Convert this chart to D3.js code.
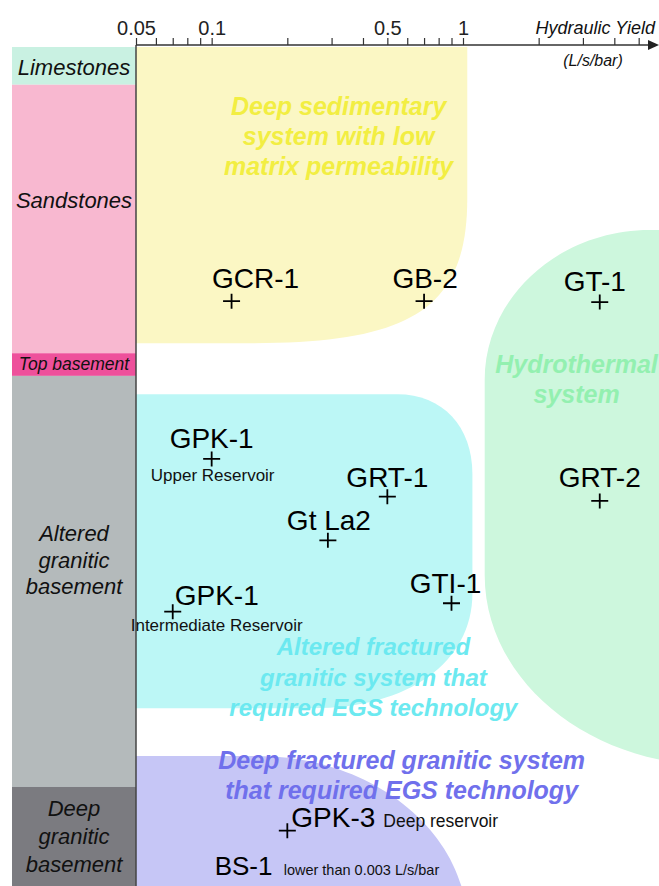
<!DOCTYPE html>
<html>
<head>
<meta charset="utf-8">
<script src="https://cdn.jsdelivr.net/npm/d3@7"></script>
<style>
  html, body { margin: 0; padding: 0; background: #fff; }
  svg { display: block; font-family: "Liberation Sans", Arial, sans-serif; }
</style>
</head>
<body>
<svg id="chart"></svg>
<script>
// hydraulic yield axis (L/s/bar), log scale
const tickValues = [0.05, 0.06, 0.07, 0.08, 0.09, 0.1, 0.2, 0.3, 0.4, 0.5, 0.6, 0.7, 0.8, 0.9, 1, 2, 3, 4, 5]
const tickLabels = [0.05, 0.1, 0.5, 1]

// geological column, depth given in % of the section
const zoneNames = [["Limestones"], ["Sandstones"], ["Top basement"], ["Altered", "granitic", "basement"], ["Deep", "granitic", "basement"]]
const zoneTop = [0, 4.5, 36.5, 39.2, 88.2]
const zoneBottom = [4.5, 36.5, 39.2, 88.2, 100]

// wells
const wellNames = ["GCR-1", "GB-2", "GT-1", "GPK-1", "GRT-1", "Gt La2", "GTI-1", "GPK-1", "GRT-2", "GPK-3"]
const wellYield = [0.12, 0.7, 3.5, 0.1, 0.5, 0.29, 0.9, 0.07, 3.5, 0.2]
const wellDepth = [30.3, 30.3, 30.4, 49.1, 53.6, 58.8, 66.3, 67.3, 54.1, 93.4]
const wellNotes = ["", "", "", "Upper Reservoir", "", "", "", "Intermediate Reservoir", "", "Deep reservoir"]

// well without a point (yield off the scale)
const offScaleName = "BS-1"
const offScaleNote = "lower than 0.003 L/s/bar"
const offScaleDepth = 98.7

// geothermal system domains
const systemText = [
  ["Deep sedimentary", "system with low", "matrix permeability"],
  ["Altered fractured", "granitic system that", "required EGS technology"],
  ["Hydrothermal", "system"],
  ["Deep fractured granitic system", "that required EGS technology"],
]
const systemYield = [[0.05, 1.04], [0.05, 1.09], [1.22, 9], [0.05, 1.04]]
const systemDepth = [[0, 35.3], [41.4, 78.8], [21.8, 85.6], [84.5, 103]]

// ---- layout / styles
const width = 659
const height = 886
const axisY = 45
const colLeft = 12
const plotLeft = 136

const zoneFill = ["#c9f1e2", "#f8b8d0", "#ee509b", "#b4babb", "#7b7b80"]
const zoneLabel = [
  { y: 75, size: 22, lh: 26 },
  { y: 208, size: 22, lh: 26 },
  { y: 370, size: 17.5, lh: 26 },
  { y: 541, size: 22, lh: 26.5 },
  { y: 816, size: 22, lh: 28 },
]

const systemStyle = [
  { fill: "#fbf7c4", color: "#f2ee42", size: 25, tx: 0.32, ty: 115, lh: 30, c: 0.75, br: [215, 145] },
  { fill: "#bcf7f6", color: "#6ce9f0", size: 24, tx: 0.44, ty: 655, lh: 30.5, c: 0.6, tr: [75, 80], br: [160, 115] },
  { fill: "#cdf7dd", color: "#93f0b0", size: 25, tx: 2.83, ty: 373, lh: 30, c: 0.55, tl: [165, 150], bl: [230, 190] },
  { fill: "#c6c6f6", color: "#7070ec", size: 25, tx: 0.57, ty: 769, lh: 30, c: 0.55, tr: [210, 170] },
]

// label offsets relative to the cross: [dx, dy, anchor]
const labelPlace = [[24, -13, "middle"], [1, -13, "middle"], [-5, -11, "middle"], [0, -11, "middle"],
  [0, -10, "middle"], [1, -10, "middle"], [-6, -10, "middle"], [2, -7, "start"], [0, -14, "middle"], [4, -4, "start"]]
const notePlace = [null, null, null, [1, 22, "middle"], null, null, null, [-42, 19, "start"], null, [96, -4, "start"]]

const x = d3.scaleLog().domain([0.05, 1]).range([plotLeft, 463])
const y = d3.scaleLinear().domain([0, 100]).range([47, 886])

const svg = d3.select("#chart").attr("width", width).attr("height", height)

// rounded box, each corner given as [rx, ry]
function roundedBox(x0, y0, x1, y1, s) {
  const c = s.c
  const [tlx, tly] = s.tl || [0, 0]
  const [trx, tr_y] = s.tr || [0, 0]
  const [brx, bry] = s.br || [0, 0]
  const [blx, bly] = s.bl || [0, 0]
  const p = d3.path()
  p.moveTo(x0, y0 + tly)
  if (s.tl) p.bezierCurveTo(x0, y0 + tly * (1 - c), x0 + tlx * (1 - c), y0, x0 + tlx, y0)
  p.lineTo(x1 - trx, y0)
  if (s.tr) p.bezierCurveTo(x1 - trx * (1 - c), y0, x1, y0 + tr_y * (1 - c), x1, y0 + tr_y)
  p.lineTo(x1, y1 - bry)
  if (s.br) p.bezierCurveTo(x1, y1 - bry * (1 - c), x1 - brx * (1 - c), y1, x1 - brx, y1)
  p.lineTo(x0 + blx, y1)
  if (s.bl) p.bezierCurveTo(x0 + blx * (1 - c), y1, x0, y1 - bly * (1 - c), x0, y1 - bly)
  p.closePath()
  return p.toString()
}

// domains
svg
  .append("g")
  .selectAll("path")
  .data(systemText)
  .enter()
  .append("path")
  .attr("d", (d, i) =>
    roundedBox(x(systemYield[i][0]), y(systemDepth[i][0]), x(systemYield[i][1]), y(systemDepth[i][1]), systemStyle[i]),
  )
  .attr("fill", (d, i) => systemStyle[i].fill)

// domain titles
systemText.forEach((lines, i) => {
  const st = systemStyle[i]
  svg
    .append("text")
    .attr("x", x(st.tx))
    .attr("y", st.ty)
    .attr("text-anchor", "middle")
    .attr("font-size", st.size)
    .attr("font-weight", "bold")
    .attr("font-style", "italic")
    .attr("fill", st.color)
    .selectAll("tspan")
    .data(lines)
    .enter()
    .append("tspan")
    .attr("x", x(st.tx))
    .attr("dy", (d, j) => (j == 0 ? 0 : st.lh))
    .text((d) => d)
})

// geological column
const col = svg.append("g")
col
  .selectAll("rect")
  .data(zoneNames)
  .enter()
  .append("rect")
  .attr("x", colLeft)
  .attr("width", plotLeft - colLeft)
  .attr("y", (d, i) => y(zoneTop[i]))
  .attr("height", (d, i) => y(zoneBottom[i]) - y(zoneTop[i]))
  .attr("fill", (d, i) => zoneFill[i])

zoneNames.forEach((lines, i) => {
  const zl = zoneLabel[i]
  col
    .append("text")
    .attr("text-anchor", "middle")
    .attr("font-style", "italic")
    .attr("font-size", zl.size)
    .attr("fill", "#111")
    .attr("y", zl.y)
    .selectAll("tspan")
    .data(lines)
    .enter()
    .append("tspan")
    .attr("x", (colLeft + plotLeft) / 2)
    .attr("dy", (d, j) => (j == 0 ? 0 : zl.lh))
    .text((d) => d)
})

// left border of the plot
svg
  .append("line")
  .attr("x1", plotLeft)
  .attr("x2", plotLeft)
  .attr("y1", axisY)
  .attr("y2", height)
  .attr("stroke", "#444")
  .attr("stroke-width", 1.5)

// top axis
const axis = svg
  .append("g")
  .attr("transform", `translate(0,${axisY})`)
  .call(
    d3
      .axisTop(x)
      .tickValues(tickValues)
      .tickFormat((d) => (tickLabels.includes(d) ? d : ""))
      .tickSize(7)
      .tickSizeOuter(0)
      .tickPadding(3),
  )
axis.select(".domain").remove()
axis.selectAll(".tick line").attr("stroke", "#333").attr("stroke-width", 1.2)
axis
  .selectAll(".tick text")
  .attr("font-size", 20)
  .attr("font-family", '"Liberation Sans", Arial, sans-serif')
  .attr("fill", "#222")

axis
  .append("line")
  .attr("x1", plotLeft)
  .attr("x2", 650)
  .attr("stroke", "#333")
  .attr("stroke-width", 1.3)
axis.append("path").attr("d", "M648,-5L659,0L648,5Z").attr("fill", "#222")

svg
  .append("text")
  .attr("x", 655)
  .attr("y", 34)
  .attr("text-anchor", "end")
  .attr("font-style", "italic")
  .attr("font-size", 18)
  .attr("fill", "#111")
  .text("Hydraulic Yield")
svg
  .append("text")
  .attr("x", 593)
  .attr("y", 66)
  .attr("text-anchor", "middle")
  .attr("font-style", "italic")
  .attr("font-size", 16)
  .attr("fill", "#111")
  .text("(L/s/bar)")

// wells
const wells = svg
  .append("g")
  .selectAll("g")
  .data(wellNames)
  .enter()
  .append("g")
  .attr("transform", (d, i) => `translate(${x(wellYield[i])},${y(wellDepth[i])})`)

wells.append("path").attr("d", "M-8.5,0H8.5M0,-7.5V7.5").attr("stroke", "#000").attr("stroke-width", 1.8)

wells
  .append("text")
  .attr("x", (d, i) => labelPlace[i][0])
  .attr("y", (d, i) => labelPlace[i][1])
  .attr("text-anchor", (d, i) => labelPlace[i][2])
  .attr("font-size", 28)
  .attr("fill", "#000")
  .text((d) => d)

// sub labels
wellNotes.forEach((note, i) => {
  if (note == "") return
  const np = notePlace[i]
  svg
    .append("text")
    .attr("x", x(wellYield[i]) + np[0])
    .attr("y", y(wellDepth[i]) + np[1])
    .attr("text-anchor", np[2])
    .attr("font-size", i == 9 ? 17.5 : 17)
    .attr("fill", "#111")
    .text(note)
})

// BS-1, no point: yield below the axis range
svg
  .append("text")
  .attr("x", x(0.1) + 3)
  .attr("y", y(offScaleDepth))
  .attr("font-size", 26)
  .attr("fill", "#000")
  .text(offScaleName)
svg
  .append("text")
  .attr("x", x(0.1) + 72)
  .attr("y", y(offScaleDepth))
  .attr("font-size", 14.5)
  .attr("fill", "#111")
  .text(offScaleNote)
</script>
</body>
</html>
